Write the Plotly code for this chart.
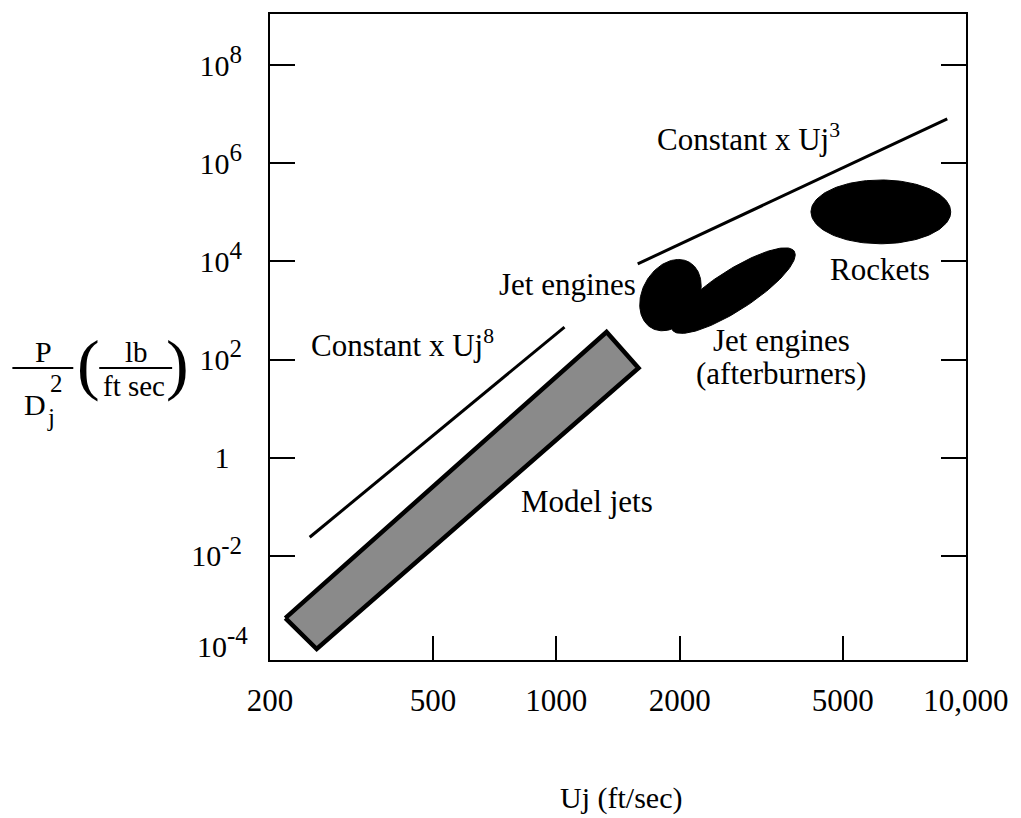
import numpy as np
import plotly.graph_objects as go

# ---------------- data ----------------
x_tickvals = [200, 500, 1000, 2000, 5000, 10000]
x_ticktext = ["200", "500", "1000", "2000", "5000", "10,000"]
y_tickvals = [1e-2, 1, 1e2, 1e4, 1e6, 1e8]
y_exponents = ["-2", "", "2", "4", "6", "8"]
y_bottom_label_exp = "-4"   # label drawn at the bottom corner (10^-4)

# "Constant x Uj^8" trend line (end points)
u8_line_u = [250, 1047]
u8_line_p = [0.024, 460]
# "Constant x Uj^3" trend line (end points)
u3_line_u = [1580, 9000]
u3_line_p = [8900, 8.0e6]

# Model jets band (corner points)
model_u = [218, 260, 1587, 1326]
model_p = [5.4e-4, 1.27e-4, 67.6, 365]

# Elliptical regions: centre, tip of first semi-axis, tip of second semi-axis (U, P)
jet_center, jet_axis1, jet_axis2 = (1899, 2056), (2113, 9579), (2175, 1069)
ab_center, ab_axis1, ab_axis2 = (2704, 2538), (3809, 16095), (2874, 1157)
rk_center, rk_axis1, rk_axis2 = (6197, 1.021e5), (9178, 1.021e5), (6197, 4.56e5)

# ---------------- figure ----------------
W, H = 1021, 818
ML, MR, MT, MB = 270, 54, 12, 158
PW, PH = W - ML - MR, H - MT - MB
FONT = "Liberation Serif"


def px(x):
    return (x - ML) / PW


def py(y):
    return (H - MB - y) / PH


def ellipse(center, a1, a2, n=160):
    c = np.log10(np.array(center, dtype=float))
    a = np.log10(np.array(a1, dtype=float)) - c
    b = np.log10(np.array(a2, dtype=float)) - c
    t = np.linspace(0, 2 * np.pi, n)
    lx = c[0] + a[0] * np.cos(t) + b[0] * np.sin(t)
    ly = c[1] + a[1] * np.cos(t) + b[1] * np.sin(t)
    return 10 ** lx, 10 ** ly


def pow_label(e):
    if e == "":
        return "1<sup><span style='font-size:25px'>\u2007</span></sup>"
    return "10<sup><span style='font-size:25px'>%s</span></sup>" % e


y_ticktext = [pow_label(e) for e in y_exponents]

fig = go.Figure()

# model jets band
fig.add_trace(go.Scatter(
    x=model_u + model_u[:1], y=model_p + model_p[:1], mode="lines",
    fill="toself", fillcolor="#8a8a8a",
    line=dict(color="black", width=4.5), hoverinfo="skip", showlegend=False))

# black regions
for cen, a1, a2 in [(jet_center, jet_axis1, jet_axis2),
                    (ab_center, ab_axis1, ab_axis2),
                    (rk_center, rk_axis1, rk_axis2)]:
    ex, ey = ellipse(cen, a1, a2)
    fig.add_trace(go.Scatter(
        x=ex, y=ey, mode="lines", fill="toself", fillcolor="black",
        line=dict(color="black", width=1), hoverinfo="skip", showlegend=False))

# trend lines
for lu, lp in [(u8_line_u, u8_line_p), (u3_line_u, u3_line_p)]:
    fig.add_trace(go.Scatter(x=lu, y=lp, mode="lines",
                             line=dict(color="black", width=3),
                             hoverinfo="skip", showlegend=False))

ann = []


def text(t, x, y, size=31, xanchor="center"):
    ann.append(dict(text=t, x=px(x), y=py(y), xref="paper", yref="paper",
                    xanchor=xanchor, yanchor="middle", showarrow=False,
                    font=dict(family=FONT, size=size, color="black")))


text("Constant x Uj<sup>8</sup>", 309, 343, xanchor="left")
text("Constant x Uj<sup>3</sup>", 656, 136, xanchor="left")
text("Jet engines", 568, 283)
text("Jet engines", 782, 340)
text("(afterburners)", 782, 373)
text("Rockets", 881, 268)
text("Model jets", 587, 501)

# bottom-corner y label (10^-4)
text(pow_label(y_bottom_label_exp), 250, 642, size=30, xanchor="right")

# x-axis title
text("Uj (ft/sec)", 622, 798, size=30)

# y-axis title  P/Dj^2 (lb / ft sec)
text("P", 43, 351, size=30)
text("D", 35, 404, size=30)
text("2", 56, 383, size=25)
text("j", 51, 417, size=25)
text("(", 88, 363, size=68)
text("lb", 136, 351, size=29)
text("ft sec", 134, 385, size=29)
text(")", 177, 363, size=68)

shapes = [
    dict(type="line", xref="paper", yref="paper", x0=px(12), x1=px(73),
         y0=py(367), y1=py(367), line=dict(color="black", width=2)),
    dict(type="line", xref="paper", yref="paper", x0=px(99), x1=px(172),
         y0=py(367), y1=py(367), line=dict(color="black", width=2)),
]

fig.update_layout(
    width=W, height=H,
    margin=dict(l=ML, r=MR, t=MT, b=MB, pad=0),
    paper_bgcolor="white", plot_bgcolor="white",
    font=dict(family=FONT, color="black"),
    annotations=ann, shapes=shapes,
    xaxis=dict(type="log", range=[np.log10(199.99), np.log10(10000.5)],
               tickvals=x_tickvals, ticktext=x_ticktext,
               ticks="inside", ticklen=24, tickwidth=1.5, tickcolor="black",
               showline=True, linecolor="black", linewidth=2, mirror=True,
               showgrid=False, zeroline=False, ticklabelstandoff=12,
               tickfont=dict(family=FONT, size=31, color="black")),
    yaxis=dict(type="log", range=[-4.12, 9.04],
               tickvals=y_tickvals, ticktext=y_ticktext,
               ticks="inside", ticklen=25, tickwidth=1.5, tickcolor="black",
               showline=True, linecolor="black", linewidth=2, mirror="ticks",
               showgrid=False, zeroline=False, ticklabelstandoff=20,
               tickfont=dict(family=FONT, size=30, color="black")),
)

fig.write_html("out.html")
